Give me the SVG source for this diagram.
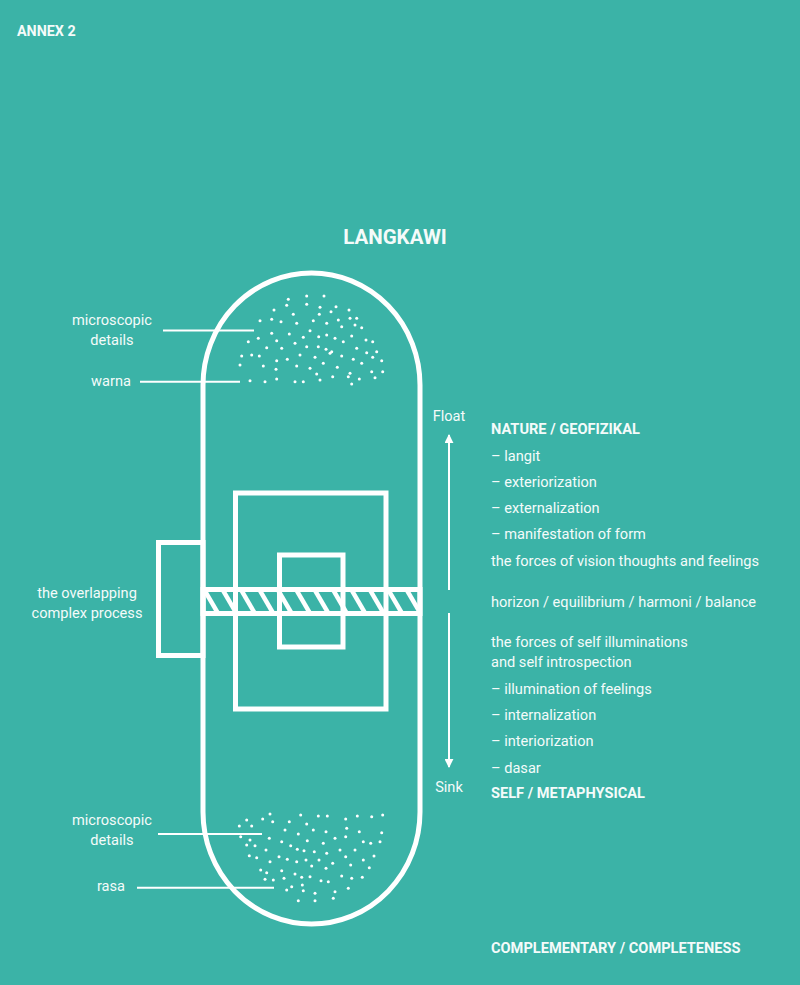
<svg xmlns="http://www.w3.org/2000/svg" width="800" height="985" viewBox="0 0 800 985">
<style>
.t{font-family:Roboto,"Liberation Sans",sans-serif;font-size:14.6px;fill:#f4fbfa}
.b{font-weight:bold}
.c{text-anchor:middle}
.ln{stroke:#ffffff;stroke-width:5;fill:none}
.ptr{stroke:#ffffff;stroke-width:2;fill:none}
.d circle{fill:#ffffff;r:1.5px}
</style>
<defs>
<marker id="ah" viewBox="0 0 10 10" refX="9" refY="5" markerWidth="9" markerHeight="9" markerUnits="userSpaceOnUse" orient="auto">
<path d="M0,0 L10,5 L0,10 Z" fill="#ffffff"/>
</marker>
<clipPath id="bandclip"><rect x="205" y="592" width="213" height="19"/></clipPath>
</defs>
<rect x="0" y="0" width="800" height="985" fill="#3bb3a7"/>
<text class="t b" x="17" y="36" style="font-size:14.3px">ANNEX 2</text>
<text class="t b c" x="395" y="244" style="font-size:20.5px">LANGKAWI</text>

<g id="capsule">
<path d="M203,385 A108.5,112 0 0 1 420,385 L420,812 A108.5,112 0 0 1 203,812 Z" class="ln" stroke-width="4.5"/>
</g>
<g id="side-box">
<rect x="158.5" y="542.5" width="44.5" height="113" class="ln"/>
</g>
<g id="outer-square">
<rect x="235.5" y="493" width="150.5" height="216" class="ln"/>
</g>
<g id="inner-square">
<rect x="279.5" y="555" width="63.5" height="92" class="ln"/>
</g>
<g id="horizon-band">
<rect x="203" y="589.5" width="217" height="24" fill="#3bb3a7" class="ln"/>
<g clip-path="url(#bandclip)" stroke="#ffffff" stroke-width="4.5">
<line x1="186" y1="590" x2="200" y2="614"/>
<line x1="204.4" y1="590" x2="218.4" y2="614"/>
<line x1="222.8" y1="590" x2="236.8" y2="614"/>
<line x1="241.2" y1="590" x2="255.2" y2="614"/>
<line x1="259.6" y1="590" x2="273.6" y2="614"/>
<line x1="278" y1="590" x2="292" y2="614"/>
<line x1="296.4" y1="590" x2="310.4" y2="614"/>
<line x1="314.8" y1="590" x2="328.8" y2="614"/>
<line x1="333.2" y1="590" x2="347.2" y2="614"/>
<line x1="351.6" y1="590" x2="365.6" y2="614"/>
<line x1="370" y1="590" x2="384" y2="614"/>
<line x1="388.4" y1="590" x2="402.4" y2="614"/>
<line x1="406.8" y1="590" x2="420.8" y2="614"/>
</g>
</g>

<g id="dots-top" class="d">
<circle cx="288.3" cy="299.3" r="1.5"/><circle cx="306.7" cy="296" r="1.5"/><circle cx="324" cy="296" r="1.5"/>
<circle cx="286.7" cy="305.3" r="1.5"/><circle cx="306.7" cy="304.3" r="1.5"/><circle cx="320" cy="307.3" r="1.5"/><circle cx="336" cy="306.7" r="1.5"/>
<circle cx="274" cy="310" r="1.5"/><circle cx="293.3" cy="314.3" r="1.5"/><circle cx="319.3" cy="314.3" r="1.5"/><circle cx="331" cy="311.7" r="1.5"/><circle cx="349" cy="310" r="1.5"/>
<circle cx="260" cy="320.7" r="1.5"/><circle cx="271.7" cy="319.3" r="1.5"/><circle cx="281" cy="321.7" r="1.5"/><circle cx="296.7" cy="323.3" r="1.5"/><circle cx="313.3" cy="320.7" r="1.5"/><circle cx="326.7" cy="323.3" r="1.5"/><circle cx="338.3" cy="320" r="1.5"/><circle cx="350" cy="318.3" r="1.5"/><circle cx="356.7" cy="318.3" r="1.5"/>
<circle cx="310" cy="330.7" r="1.5"/><circle cx="341.7" cy="326.7" r="1.5"/><circle cx="355" cy="325" r="1.5"/><circle cx="361.7" cy="327.7" r="1.5"/>
<circle cx="271.7" cy="333.3" r="1.5"/><circle cx="289.3" cy="334" r="1.5"/><circle cx="303.3" cy="337.3" r="1.5"/><circle cx="318.7" cy="336.7" r="1.5"/><circle cx="326.7" cy="335" r="1.5"/><circle cx="335" cy="338.3" r="1.5"/><circle cx="351.7" cy="336" r="1.5"/>
<circle cx="248.3" cy="341.7" r="1.5"/><circle cx="258.3" cy="338.3" r="1.5"/><circle cx="276.7" cy="340.7" r="1.5"/><circle cx="295" cy="343.3" r="1.5"/><circle cx="366" cy="340" r="1.5"/><circle cx="372.7" cy="341.7" r="1.5"/>
<circle cx="266.7" cy="347.7" r="1.5"/><circle cx="281.7" cy="348.3" r="1.5"/><circle cx="306.7" cy="346.7" r="1.5"/><circle cx="318.3" cy="346.7" r="1.5"/><circle cx="326" cy="349.3" r="1.5"/><circle cx="331.7" cy="351.7" r="1.5"/><circle cx="343.3" cy="341.7" r="1.5"/><circle cx="356.7" cy="348.3" r="1.5"/>
<circle cx="241.7" cy="356" r="1.5"/><circle cx="251.7" cy="355" r="1.5"/><circle cx="259.3" cy="356" r="1.5"/><circle cx="276.7" cy="360.7" r="1.5"/><circle cx="287.3" cy="359.3" r="1.5"/><circle cx="300" cy="355" r="1.5"/><circle cx="315" cy="357.3" r="1.5"/><circle cx="330" cy="353.3" r="1.5"/><circle cx="341.7" cy="356" r="1.5"/><circle cx="353.3" cy="359.3" r="1.5"/><circle cx="366.7" cy="352.7" r="1.5"/><circle cx="372.7" cy="357.3" r="1.5"/><circle cx="376.7" cy="351.7" r="1.5"/><circle cx="381.7" cy="360.7" r="1.5"/>
<circle cx="240" cy="365" r="1.5"/><circle cx="263.3" cy="366" r="1.5"/><circle cx="276" cy="369.3" r="1.5"/><circle cx="296.7" cy="366" r="1.5"/><circle cx="310" cy="368.3" r="1.5"/><circle cx="323.3" cy="363.3" r="1.5"/><circle cx="337.3" cy="367.3" r="1.5"/><circle cx="361.7" cy="363.3" r="1.5"/>
<circle cx="316.7" cy="374" r="1.5"/><circle cx="350" cy="373.3" r="1.5"/><circle cx="371.7" cy="371.7" r="1.5"/><circle cx="382.7" cy="371.7" r="1.5"/>
<circle cx="250" cy="380.7" r="1.5"/><circle cx="265" cy="381.7" r="1.5"/><circle cx="276.7" cy="379" r="1.5"/><circle cx="295" cy="381.7" r="1.5"/><circle cx="303.3" cy="381.7" r="1.5"/><circle cx="320" cy="380" r="1.5"/><circle cx="332.7" cy="376.7" r="1.5"/><circle cx="348.3" cy="376.7" r="1.5"/><circle cx="359.3" cy="379" r="1.5"/><circle cx="351.7" cy="384" r="1.5"/><circle cx="375" cy="377.7" r="1.5"/>
</g>

<g id="dots-bottom" class="d">
<circle cx="270" cy="814" r="1.5"/><circle cx="300.7" cy="815" r="1.5"/><circle cx="318.3" cy="816" r="1.5"/><circle cx="327.3" cy="816" r="1.5"/><circle cx="345.7" cy="819" r="1.5"/><circle cx="357.3" cy="816" r="1.5"/><circle cx="371.7" cy="816.7" r="1.5"/><circle cx="382.7" cy="815" r="1.5"/>
<circle cx="246.7" cy="820" r="1.5"/><circle cx="262.7" cy="819" r="1.5"/><circle cx="272.7" cy="821.7" r="1.5"/><circle cx="289.3" cy="821.7" r="1.5"/><circle cx="306.7" cy="824" r="1.5"/>
<circle cx="239.3" cy="826" r="1.5"/><circle cx="251.7" cy="826" r="1.5"/><circle cx="346.7" cy="828.3" r="1.5"/><circle cx="359.3" cy="831.7" r="1.5"/><circle cx="381.7" cy="832.7" r="1.5"/>
<circle cx="285" cy="830" r="1.5"/><circle cx="298.3" cy="834" r="1.5"/><circle cx="313.3" cy="830" r="1.5"/><circle cx="326" cy="831.7" r="1.5"/><circle cx="335" cy="838.3" r="1.5"/><circle cx="345.7" cy="836.7" r="1.5"/>
<circle cx="240.7" cy="836.7" r="1.5"/><circle cx="250" cy="840" r="1.5"/><circle cx="269.3" cy="838.3" r="1.5"/><circle cx="281.7" cy="841.7" r="1.5"/><circle cx="307.3" cy="840.7" r="1.5"/><circle cx="323.3" cy="843.3" r="1.5"/><circle cx="363.3" cy="841.7" r="1.5"/><circle cx="370.7" cy="843.3" r="1.5"/><circle cx="380" cy="841.7" r="1.5"/>
<circle cx="246.7" cy="845" r="1.5"/><circle cx="255" cy="845.7" r="1.5"/><circle cx="290.7" cy="845.7" r="1.5"/><circle cx="297.3" cy="849.3" r="1.5"/><circle cx="304" cy="850.7" r="1.5"/><circle cx="314.3" cy="851.7" r="1.5"/><circle cx="326.7" cy="853.3" r="1.5"/><circle cx="340" cy="850" r="1.5"/><circle cx="355" cy="850" r="1.5"/>
<circle cx="249.3" cy="855.7" r="1.5"/><circle cx="256.7" cy="857.7" r="1.5"/><circle cx="266" cy="850" r="1.5"/><circle cx="270" cy="861.7" r="1.5"/><circle cx="279" cy="856.7" r="1.5"/><circle cx="287.3" cy="859.3" r="1.5"/><circle cx="296.7" cy="861.7" r="1.5"/><circle cx="306" cy="860" r="1.5"/><circle cx="319" cy="860" r="1.5"/><circle cx="332.7" cy="863.3" r="1.5"/><circle cx="345.7" cy="856.7" r="1.5"/><circle cx="363.3" cy="860" r="1.5"/><circle cx="374" cy="856" r="1.5"/>
<circle cx="260.7" cy="870" r="1.5"/><circle cx="266.7" cy="872.7" r="1.5"/><circle cx="281.7" cy="870.7" r="1.5"/><circle cx="295" cy="874" r="1.5"/><circle cx="311.7" cy="866" r="1.5"/><circle cx="326" cy="868.3" r="1.5"/><circle cx="350.7" cy="865" r="1.5"/><circle cx="369.3" cy="867.7" r="1.5"/>
<circle cx="265" cy="879.3" r="1.5"/><circle cx="273.3" cy="880" r="1.5"/><circle cx="284" cy="878.3" r="1.5"/><circle cx="301.7" cy="877.3" r="1.5"/><circle cx="310" cy="876.7" r="1.5"/><circle cx="321" cy="880.7" r="1.5"/><circle cx="328.3" cy="881.7" r="1.5"/><circle cx="341.7" cy="876" r="1.5"/><circle cx="351.7" cy="878.3" r="1.5"/><circle cx="362.3" cy="877.3" r="1.5"/>
<circle cx="291.7" cy="886.7" r="1.5"/><circle cx="302.3" cy="885" r="1.5"/><circle cx="303.3" cy="890.7" r="1.5"/><circle cx="315" cy="893.3" r="1.5"/><circle cx="335" cy="891.7" r="1.5"/><circle cx="348.3" cy="888.3" r="1.5"/>
<circle cx="286.7" cy="890" r="1.5"/><circle cx="298.3" cy="900.7" r="1.5"/><circle cx="315" cy="900.7" r="1.5"/><circle cx="333.3" cy="898.3" r="1.5"/>
</g>

<g id="connectors">
<line class="ptr" x1="163" y1="330.5" x2="254" y2="330.5"/>
<line class="ptr" x1="140" y1="381.7" x2="240" y2="381.7"/>
<line class="ptr" x1="158" y1="834" x2="262" y2="834"/>
<line class="ptr" x1="137" y1="887.7" x2="274" y2="887.7"/>
<line class="ptr" x1="449" y1="590" x2="449" y2="435" marker-end="url(#ah)"/>
<line class="ptr" x1="449" y1="613" x2="449" y2="767" marker-end="url(#ah)"/>
</g>

<g id="labels-left">
<text class="t c" x="112" y="325">microscopic</text>
<text class="t c" x="112" y="345">details</text>
<text class="t c" x="111" y="386">warna</text>
<text class="t c" x="87" y="598">the overlapping</text>
<text class="t c" x="87" y="618">complex process</text>
<text class="t c" x="112" y="825">microscopic</text>
<text class="t c" x="112" y="845">details</text>
<text class="t c" x="111" y="891">rasa</text>
</g>
<g id="labels-arrow">
<text class="t c" x="449" y="421">Float</text>
<text class="t c" x="449" y="792">Sink</text>
</g>
<g id="labels-right">
<text class="t b" x="491" y="434">NATURE / GEOFIZIKAL</text>
<text class="t" x="491" y="460.7">– langit</text>
<text class="t" x="491" y="486.7">– exteriorization</text>
<text class="t" x="491" y="513">– externalization</text>
<text class="t" x="491" y="539">– manifestation of form</text>
<text class="t" x="491" y="566">the forces of vision thoughts and feelings</text>
<text class="t" x="491" y="606.7">horizon / equilibrium / harmoni / balance</text>
<text class="t" x="491" y="646.7">the forces of self illuminations</text>
<text class="t" x="491" y="667">and self introspection</text>
<text class="t" x="491" y="694">– illumination of feelings</text>
<text class="t" x="491" y="720">– internalization</text>
<text class="t" x="491" y="746">– interiorization</text>
<text class="t" x="491" y="772.7">– dasar</text>
<text class="t b" x="491" y="798">SELF / METAPHYSICAL</text>
<text class="t b" x="491" y="953">COMPLEMENTARY / COMPLETENESS</text>
</g>
</svg>
